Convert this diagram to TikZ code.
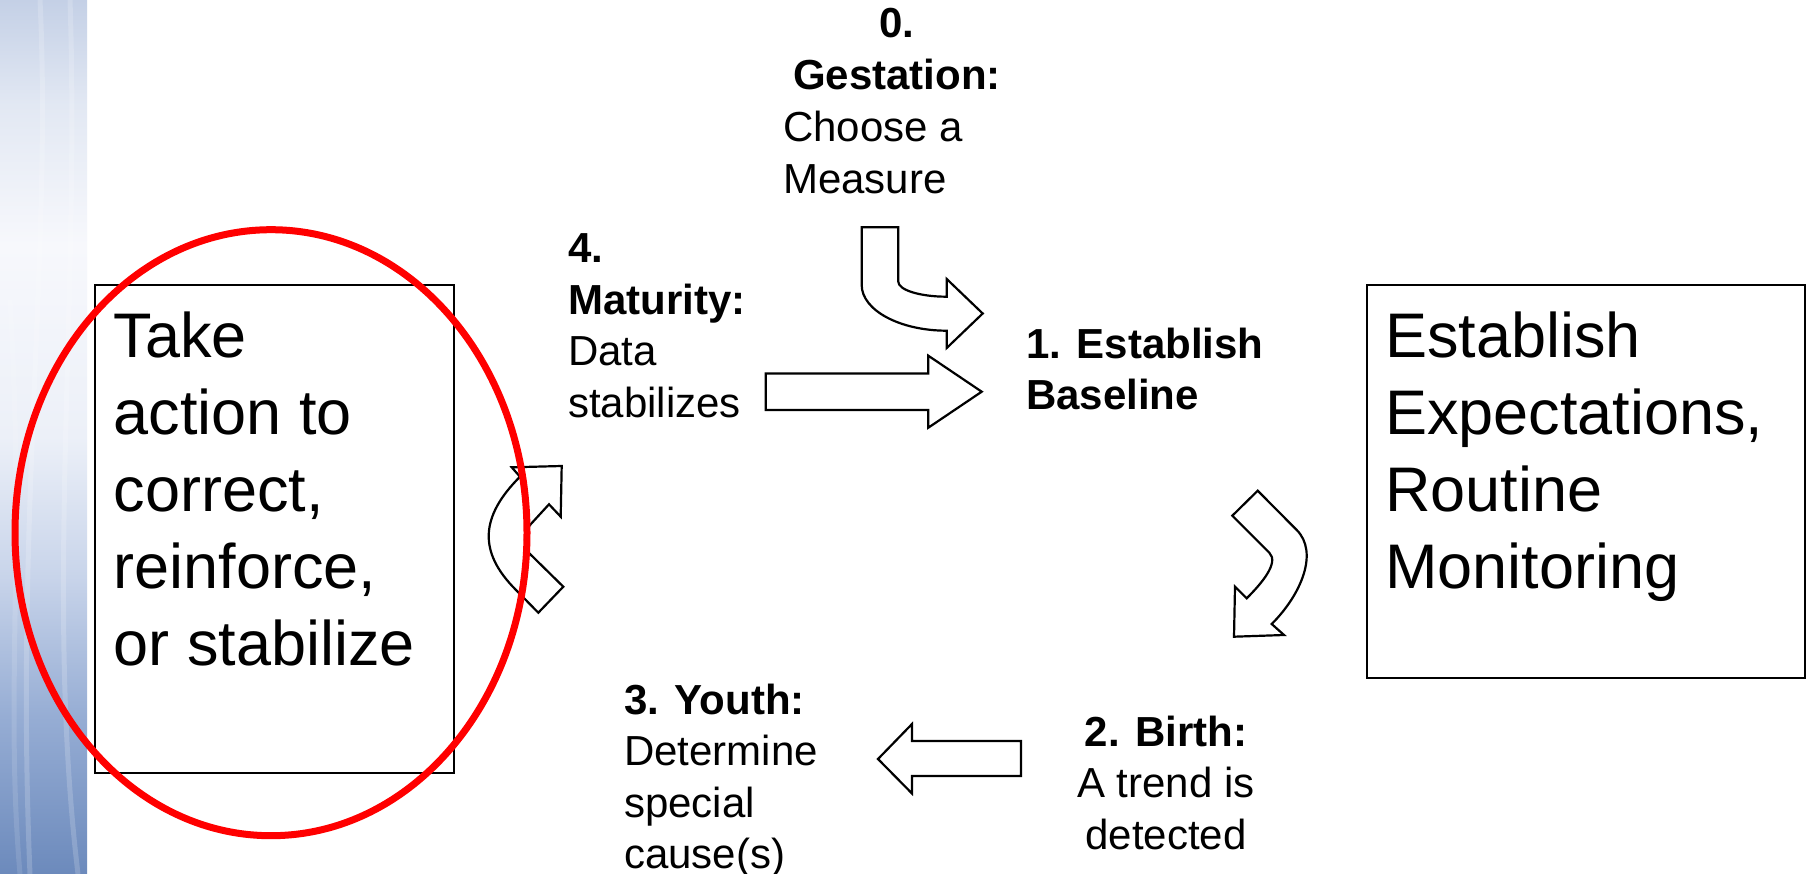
\documentclass[tikz,border=0pt]{standalone}
\usepackage{fontspec}
\setmainfont{Liberation Sans}

% colours of the decorative side strip
\definecolor{stripTop}{RGB}{196,208,230}
\definecolor{stripHigh}{RGB}{226,232,243}
\definecolor{stripWhite}{RGB}{247,248,252}
\definecolor{stripMid}{RGB}{236,240,248}
\definecolor{stripLight}{RGB}{200,212,234}
\definecolor{stripDeep}{RGB}{150,173,212}
\definecolor{stripBottom}{RGB}{108,138,188}
\definecolor{ringred}{RGB}{255,0,0}

% vertical shading; the filled area spans 25bp (bottom) to 75bp (top)
\pgfdeclareverticalshading{stripshade}{100bp}{%
  color(0bp)=(stripBottom); color(25bp)=(stripBottom); color(34bp)=(stripDeep);
  color(42bp)=(stripLight); color(50bp)=(stripMid); color(61bp)=(stripWhite);
  color(69bp)=(stripHigh); color(75bp)=(stripTop); color(100bp)=(stripTop)}

% a block of lines whose baseline is the baseline of its first line
\newcommand\lineblock[2]{\begin{tabular}[t]{@{}#1@{}}#2\end{tabular}}

\tikzset{
  frame/.style={draw=black, line width=2pt, fill=white, inner sep=0pt, anchor=north west},
  bigtext/.style={inner sep=0pt, anchor=base west, font=\fontsize{63}{77}\selectfont},
  smalltext/.style={inner sep=0pt, font=\fontsize{42}{51.5}\selectfont},
  blockarrow/.style={draw=black, fill=white, line width=2.2pt, line join=miter},
  ring/.style={draw=ringred, line width=7pt},
  wave/.style={draw=white, opacity=0.18, line width=5pt},
}

\begin{document}
\begin{tikzpicture}[x=1pt,y=-1pt]
  \useasboundingbox (0,0) rectangle (1806,874);
  \fill[white] (0,0) rectangle (1806,874);

  % side strip
  \shade[shading=stripshade] (0,0) rectangle (87,874);
  \begin{scope}
    \clip (0,0) rectangle (87,874);
    \draw[wave] (40,0) .. controls (52,250) and (15,520) .. (30,874);
    \draw[wave] (70,0) .. controls (80,300) and (45,600) .. (78,874);
    \draw[wave, opacity=0.12] (10,300) .. controls (25,550) and (5,700) .. (20,874);
  \end{scope}

  % framed text boxes
  \node[frame, minimum width=359pt, minimum height=488pt] (actbox) at (94,284) {};
  \node[bigtext] (acttext) at (113.5,357)
    {\lineblock{l}{Take\\action to\\correct,\\reinforce,\\or stabilize}};

  \node[frame, minimum width=438pt, minimum height=393pt] (expbox) at (1366,284) {};
  \node[bigtext] (exptext) at (1385,357)
    {\lineblock{l}{Establish\\Expectations,\\Routine\\Monitoring}};

  % stage labels
  \node[smalltext, anchor=base] (gesthead) at (897,38)
    {\lineblock{c}{\textbf{0.}\\\textbf{Gestation:}}};
  \node[smalltext, anchor=base west] (gestbody) at (783,142)
    {\lineblock{l}{Choose a\\Measure}};
  \node[smalltext, anchor=base west] (maturity) at (568,263)
    {\lineblock{l}{\textbf{4.}\\\textbf{Maturity:}\\Data\\stabilizes}};
  \node[smalltext, anchor=base west] (baseline) at (1026,358)
    {\lineblock{l}{\textbf{1. Establish}\\\textbf{Baseline}}};
  \node[smalltext, anchor=base west] (youth) at (624,714)
    {\lineblock{l}{\textbf{3. Youth:}\\Determine\\special\\cause(s)}};
  \node[smalltext, anchor=base] (birth) at (1166,746)
    {\lineblock{c}{\textbf{2. Birth:}\\A trend is\\detected}};

  % bent arrow from gestation to baseline
  \draw[blockarrow] (861.7,227.3) -- (898.3,227.3) -- (898.3,281.7)
    .. controls (898.3,290) and (920,296.7) .. (946.7,296.7)
    -- (946.7,279) -- (982.7,313.5) -- (946.7,348) -- (946.7,330.7)
    .. controls (899.8,330.7) and (861.7,310.2) .. (861.7,285) -- cycle;

  % straight arrow from maturity to baseline
  \draw[blockarrow] (765.7,373.5) -- (928.3,373.5) -- (928.3,355.7)
    -- (981.7,391.7) -- (928.3,427.7) -- (928.3,409.9) -- (765.7,409.9) -- cycle;

  % curved arrow from baseline down to birth
  \draw[blockarrow] (1257.7,490.7) -- (1296.7,530)
    .. controls (1318.7,552) and (1301.7,594) .. (1271.7,624)
    -- (1284,635) -- (1234,636.7) -- (1235,586.7) -- (1246.7,598.3)
    .. controls (1261.7,583.3) and (1279.3,562.7) .. (1269.3,552.7)
    -- (1232.3,515.7) -- cycle;

  % arrow from birth to youth
  \draw[blockarrow] (1021,741) -- (1021,776) -- (912,776) -- (912,793.5)
    -- (878,759) -- (912,724) -- (912,741) -- cycle;

  % curved arrow beside the action box
  \draw[blockarrow] (520,476.7) -- (511.7,467.3) -- (561.7,466) -- (560.7,516.7)
    -- (549,504.3) -- (530,525)
    .. controls (524,533) and (523,545) .. (529.3,553.3)
    -- (563.3,586.7) -- (538.3,612.7) -- (516,590)
    .. controls (478,552) and (480,516.7) .. (520,476.7) -- cycle;

  % red ring round the action box
  \draw[ring] (271,532.7) ellipse [x radius=256pt, y radius=303pt];
\end{tikzpicture}
\end{document}
